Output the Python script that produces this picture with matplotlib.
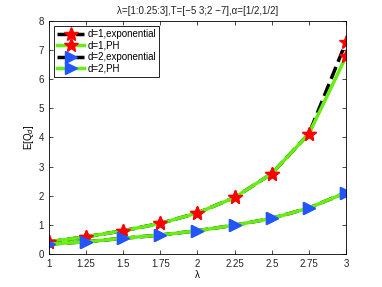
import matplotlib.pyplot as plt
import numpy as np

plt.rcParams['font.family'] = ['Liberation Sans', 'DejaVu Sans']

lam = [1, 1.25, 1.5, 1.75, 2, 2.25, 2.5, 2.75, 3]
d1_exp = [0.42, 0.59, 0.80, 1.05, 1.41, 1.94, 2.76, 4.13, 7.28]
d1_ph = [0.42, 0.59, 0.80, 1.05, 1.41, 1.94, 2.76, 4.13, 6.78]
d2_exp = [0.34, 0.42, 0.54, 0.65, 0.80, 0.99, 1.22, 1.58, 2.11]
d2_ph = [0.34, 0.42, 0.54, 0.65, 0.80, 0.99, 1.22, 1.58, 2.11]

fig = plt.figure(figsize=(3.82, 2.87), dpi=100)
ax = fig.add_axes([0.128, 0.115, 0.778, 0.812])

ax.plot(lam, d1_exp, 'k--', lw=2.5, marker='*', ms=10, mfc='red', mec='red', label='d=1,exponential')
ax.plot(lam, d1_ph, '-', color='#66ee11', lw=2.5, marker='*', ms=10, mfc='red', mec='red', label='d=1,PH')
ax.plot(lam, d2_exp, 'k--', lw=2.5, marker='>', ms=8, mfc='#2255ff', mec='#2255ff', label='d=2,exponential')
ax.plot(lam, d2_ph, '-', color='#66ee11', lw=2.5, marker='>', ms=8, mfc='#2255ff', mec='#2255ff', label='d=2,PH')

ax.set_xlim(1, 3)
ax.set_ylim(0, 8)
ax.set_xticks(lam)
ax.set_xticklabels(['1', '1.25', '1.5', '1.75', '2', '2.25', '2.5', '2.75', '3'])
ax.set_yticks(np.arange(0, 9, 1))
ax.tick_params(direction='in', top=True, right=True, labelsize=7, length=3, width=0.5,
               labelcolor='#222222')
for s in ax.spines.values():
    s.set_linewidth(0.6)

ax.set_xlabel('λ', fontsize=7, labelpad=1)
ax.set_ylabel('E[Q$_d$]', fontsize=7, labelpad=2)
ax.set_title('λ=[1:0.25:3],T=[−5 3;2 −7],α=[1/2,1/2]', fontsize=7, pad=5, color='#222222')

leg = ax.legend(loc='upper left', fontsize=7, fancybox=False, framealpha=1, edgecolor='black',
                numpoints=1, handlelength=2.8, borderpad=0.35, labelspacing=0.15,
                handletextpad=0.3, borderaxespad=0.5)
leg.get_frame().set_linewidth(0.6)

fig.savefig('out.png', dpi=100)
